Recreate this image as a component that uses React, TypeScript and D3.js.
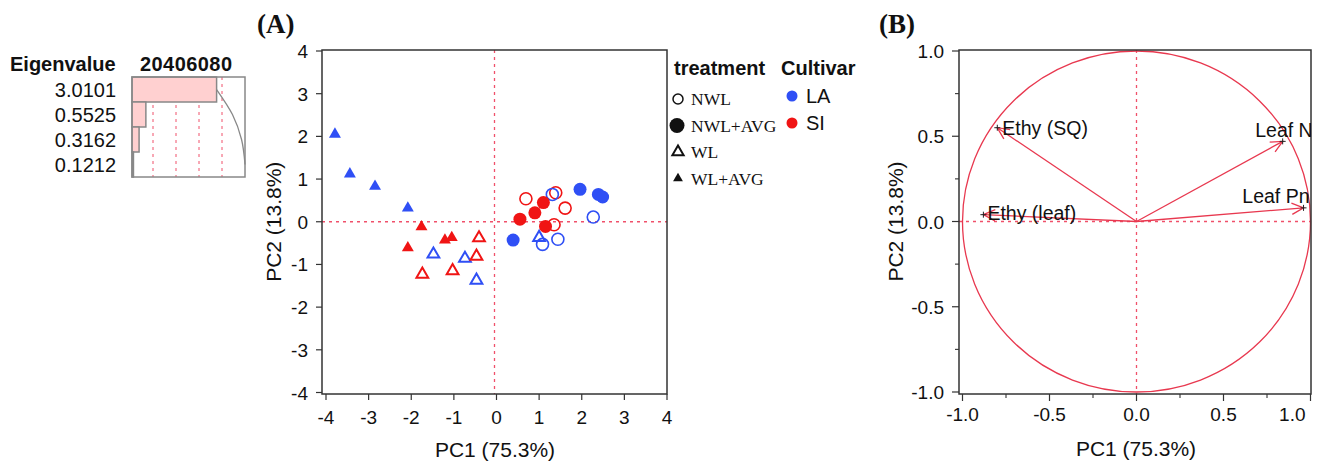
import React from "react";
import * as d3 from "d3";

// ---------- Eigenvalue table ----------
const eigenvalues = [3.0101, 0.5525, 0.3162, 0.1212];
const eigenLabels = ["3.0101", "0.5525", "0.3162", "0.1212"];
const percents = [75.3, 13.8, 7.9, 3.0];
const cumulative = [75.3, 89.1, 97.0, 100];
const percentTicks = [20, 40, 60, 80];

// ---------- Panel A: scores ----------
type Pt = { x: number; y: number };
const nwlLA: Pt[] = [{ x: 1.31, y: 0.64 }, { x: 2.27, y: 0.11 }, { x: 1.08, y: -0.53 }, { x: 1.44, y: -0.41 }];
const nwlSI: Pt[] = [{ x: 0.69, y: 0.54 }, { x: 1.39, y: 0.68 }, { x: 1.61, y: 0.32 }, { x: 1.35, y: -0.07 }];
const nwlAvgLA: Pt[] = [{ x: 0.39, y: -0.43 }, { x: 1.96, y: 0.76 }, { x: 2.39, y: 0.64 }, { x: 2.49, y: 0.58 }];
const nwlAvgSI: Pt[] = [{ x: 0.55, y: 0.06 }, { x: 0.9, y: 0.21 }, { x: 1.1, y: 0.45 }, { x: 1.15, y: -0.11 }];
const wlLA: Pt[] = [{ x: -1.48, y: -0.76 }, { x: -0.74, y: -0.86 }, { x: -0.47, y: -1.37 }, { x: 1.0, y: -0.37 }];
const wlSI: Pt[] = [{ x: -0.41, y: -0.38 }, { x: -0.47, y: -0.81 }, { x: -1.03, y: -1.15 }, { x: -1.74, y: -1.23 }];
const wlAvgLA: Pt[] = [{ x: -3.79, y: 2.05 }, { x: -3.44, y: 1.12 }, { x: -2.85, y: 0.83 }, { x: -2.08, y: 0.32 }];
const wlAvgSI: Pt[] = [{ x: -1.76, y: -0.12 }, { x: -2.08, y: -0.61 }, { x: -1.21, y: -0.43 }, { x: -1.05, y: -0.37 }];

const ticksA = [-4, -3, -2, -1, 0, 1, 2, 3, 4];
const treatmentLabels = ["NWL", "NWL+AVG", "WL", "WL+AVG"];
const cultivarLabels = ["LA", "SI"];

// ---------- Panel B: loadings ----------
const loadingNames = ["Ethy (SQ)", "Leaf N", "Leaf Pn", "Ethy (leaf)"];
const loadingX = [-0.8, 0.84, 0.96, -0.88];
const loadingY = [0.55, 0.47, 0.08, 0.04];
const ticksB = [-1.0, -0.5, 0.0, 0.5, 1.0];
const minorTicksB = [-0.75, -0.25, 0.25, 0.75];

const BLUE = "#2f4ff5";
const RED = "#f01414";
const DOT = "#f0506a";
const LINE = "#e8384f";
const FRAME = "#333";
const SANS = "'Liberation Sans', Arial, sans-serif";
const SERIF = "'Liberation Serif', 'Times New Roman', serif";

export default function App() {
  const eX = d3.scaleLinear().domain([0, 100]).range([130, 245]);
  const eY = d3.scaleBand<number>().domain([0, 1, 2, 3]).range([77, 177]).padding(0);
  const cumLine = d3
    .line<number>()
    .x((d) => eX(d))
    .y((_, i) => eY(i)! + eY.bandwidth() / 2)
    .curve(d3.curveMonotoneY);

  const ax = d3.scaleLinear().domain([-4, 4]).range([326, 667]);
  const ay = d3.scaleLinear().domain([-4, 4]).range([392.5, 51]);
  const frameA = { l: 322, r: 667, t: 50, b: 394 };

  const bx = d3.scaleLinear().domain([-1, 1]).range([962.5, 1310.5]);
  const by = d3.scaleLinear().domain([-1, 1]).range([392, 51]);
  const frameB = { l: 959, r: 1311, t: 50, b: 394 };

  const triFilled = d3.symbol().type(d3.symbolTriangle).size(62)()!;
  const triOpen = d3.symbol().type(d3.symbolTriangle).size(60)()!;

  const groups: { pts: Pt[]; color: string; kind: string }[] = [
    { pts: wlAvgLA, color: BLUE, kind: "triF" },
    { pts: wlAvgSI, color: RED, kind: "triF" },
    { pts: wlLA, color: BLUE, kind: "triO" },
    { pts: wlSI, color: RED, kind: "triO" },
    { pts: nwlSI, color: RED, kind: "circO" },
    { pts: nwlLA, color: BLUE, kind: "circO" },
    { pts: nwlAvgSI, color: RED, kind: "circF" },
    { pts: nwlAvgLA, color: BLUE, kind: "circF" },
  ];

  const labelOffsets = [
    { dx: 5, dy: 7, anchor: "start" },
    { dx: 30, dy: -4, anchor: "end" },
    { dx: 6, dy: -5, anchor: "end" },
    { dx: 4, dy: 5, anchor: "start" },
  ];

  const arrowHead = (x0: number, y0: number, x1: number, y1: number) => {
    const ang = Math.atan2(y1 - y0, x1 - x0);
    const len = 13;
    const spread = Math.PI / 7;
    const a1 = ang + Math.PI - spread;
    const a2 = ang + Math.PI + spread;
    return `M${x1 + len * Math.cos(a1)},${y1 + len * Math.sin(a1)}L${x1},${y1}L${x1 + len * Math.cos(a2)},${y1 + len * Math.sin(a2)}`;
  };

  const fmtB = (t: number) => d3.format(".1f")(t).replace("−", "-");

  return (
    <svg
      width={1321}
      height={463}
      style={{ position: "absolute", left: 0, top: 0, background: "#fff" }}
      fontFamily={SANS}
    >
      <defs>
        <clipPath id="clipB">
          <rect x={frameB.l} y={frameB.t} width={frameB.r - frameB.l} height={frameB.b - frameB.t} />
        </clipPath>
      </defs>

      {/* ---------- Eigenvalue table ---------- */}
      <g>
        <text x={10} y={71} fontSize={20} fontWeight="bold" fill="#111">Eigenvalue</text>
        <text x={140} y={71} fontSize={20} fontWeight="bold" fill="#111" textLength={92}>{percentTicks.join("")}</text>
        {eigenvalues.map((v, i) => (
          <text key={i} x={116} y={eY(i)! + eY.bandwidth() / 2 + 7} fontSize={20} textAnchor="end" fill="#111">
            {eigenLabels[i]}
          </text>
        ))}
        {percentTicks.map((p) => (
          <line key={p} x1={eX(p)} x2={eX(p)} y1={77} y2={177} stroke={DOT} strokeWidth={1} strokeDasharray="3,4" />
        ))}
        {percents.map((p, i) => (
          <rect
            key={i}
            x={eX(0) + 2}
            y={eY(i)!}
            width={Math.max(eX(p) - eX(0) - 2, 1)}
            height={eY.bandwidth()}
            fill="#ffd0d0"
            stroke="#888"
            strokeWidth={1.5}
          />
        ))}
        <path d={cumLine(cumulative)!} fill="none" stroke="#888" strokeWidth={1.3} />
        <rect x={132} y={77} width={113} height={100} fill="none" stroke="#888" strokeWidth={1.5} />
      </g>

      {/* ---------- Panel A ---------- */}
      <text x={257} y={33} fontFamily={SERIF} fontWeight="bold" fontSize={27} fill="#111">(A)</text>
      <line x1={frameA.l} x2={frameA.r} y1={ay(0)} y2={ay(0)} stroke={DOT} strokeWidth={1.3} strokeDasharray="3,4" />
      <line x1={ax(0) - 2} x2={ax(0) - 2} y1={frameA.t} y2={frameA.b} stroke={DOT} strokeWidth={1.3} strokeDasharray="3,4" />
      <rect x={frameA.l} y={frameA.t} width={frameA.r - frameA.l} height={frameA.b - frameA.t} fill="none" stroke={FRAME} strokeWidth={1.5} />
      {ticksA.map((t) => (
        <g key={"ay" + t}>
          <line x1={frameA.l - 6} x2={frameA.l} y1={ay(t)} y2={ay(t)} stroke={FRAME} strokeWidth={1.2} />
          <text x={308} y={ay(t) + 7} fontSize={19} textAnchor="end" fill="#111">{t}</text>
        </g>
      ))}
      {ticksA.map((t) => (
        <g key={"ax" + t}>
          <line x1={ax(t)} x2={ax(t)} y1={frameA.b} y2={frameA.b + 6} stroke={FRAME} strokeWidth={1.2} />
          <text x={ax(t)} y={424} fontSize={19} textAnchor="middle" fill="#111">{t}</text>
        </g>
      ))}
      <text x={495} y={457} fontSize={21} textAnchor="middle" fill="#111">PC1 (75.3%)</text>
      <text transform={`translate(281,${ay(0)}) rotate(-90)`} fontSize={21} textAnchor="middle" fill="#111">PC2 (13.8%)</text>

      {groups.map((g, gi) => (
        <g key={gi}>
          {g.pts.map((p, i) => {
            const cx = ax(p.x);
            const cy = ay(p.y);
            if (g.kind === "circF") return <circle key={i} cx={cx} cy={cy} r={6.5} fill={g.color} />;
            if (g.kind === "circO")
              return <circle key={i} cx={cx} cy={cy} r={6} fill="none" stroke={g.color} strokeWidth={1.6} />;
            if (g.kind === "triF") return <path key={i} d={triFilled} transform={`translate(${cx},${cy})`} fill={g.color} />;
            return <path key={i} d={triOpen} transform={`translate(${cx},${cy})`} fill="none" stroke={g.color} strokeWidth={2} />;
          })}
        </g>
      ))}

      {/* Legend */}
      <text x={674} y={75} fontSize={20} fontWeight="bold" fill="#111">treatment</text>
      <text x={781} y={75} fontSize={20} fontWeight="bold" fill="#111">Cultivar</text>
      {treatmentLabels.map((lab, i) => {
        const y = 99 + i * 26.5;
        let marker;
        if (i === 0) marker = <circle cx={678} cy={y} r={5} fill="none" stroke="#111" strokeWidth={1.5} />;
        else if (i === 1) marker = <circle cx={677} cy={y} r={7.5} fill="#111" />;
        else if (i === 2)
          marker = <path d={d3.symbol().type(d3.symbolTriangle).size(55)()!} transform={`translate(678,${y})`} fill="none" stroke="#111" strokeWidth={2} />;
        else marker = <path d={d3.symbol().type(d3.symbolTriangle).size(42)()!} transform={`translate(678,${y})`} fill="#111" />;
        return (
          <g key={lab}>
            {marker}
            <text x={691} y={y + 6} fontFamily={SERIF} fontSize={17.5} fill="#111">{lab}</text>
          </g>
        );
      })}
      {cultivarLabels.map((lab, i) => {
        const y = 96 + i * 27;
        return (
          <g key={lab}>
            <circle cx={792} cy={y} r={5.5} fill={i === 0 ? BLUE : RED} />
            <text x={806} y={y + 7} fontSize={20} fill="#111">{lab}</text>
          </g>
        );
      })}

      {/* ---------- Panel B ---------- */}
      <text x={879} y={33} fontFamily={SERIF} fontWeight="bold" fontSize={27} fill="#111">(B)</text>
      <line x1={frameB.l} x2={frameB.r} y1={by(0)} y2={by(0)} stroke={DOT} strokeWidth={1.3} strokeDasharray="3,4" />
      <line x1={bx(0)} x2={bx(0)} y1={frameB.t} y2={frameB.b} stroke={DOT} strokeWidth={1.3} strokeDasharray="3,4" />
      <ellipse cx={bx(0)} cy={by(0)} rx={bx(1) - bx(0)} ry={by(0) - by(1)} fill="none" stroke={LINE} strokeWidth={1.3} />
      <rect x={frameB.l} y={frameB.t} width={frameB.r - frameB.l} height={frameB.b - frameB.t} fill="none" stroke={FRAME} strokeWidth={1.5} />
      {ticksB.map((t, i) => {
        const last = i === ticksB.length - 1;
        return (
          <g key={"by" + t}>
            <line x1={frameB.l - 7} x2={frameB.l} y1={by(t)} y2={by(t)} stroke={FRAME} strokeWidth={1.2} />
            <text x={944} y={by(t) + 7} fontSize={19} textAnchor="end" fill="#111">{fmtB(t)}</text>
            <line x1={bx(t)} x2={bx(t)} y1={frameB.b} y2={frameB.b + 7} stroke={FRAME} strokeWidth={1.2} />
            <text
              x={last ? bx(t) - 5 : bx(t)}
              y={421}
              fontSize={19}
              textAnchor={last ? "end" : "middle"}
              fill="#111"
            >
              {fmtB(t)}
            </text>
          </g>
        );
      })}
      {minorTicksB.map((t) => (
        <g key={"mb" + t}>
          <line x1={frameB.l - 4} x2={frameB.l} y1={by(t)} y2={by(t)} stroke={FRAME} strokeWidth={1.1} />
          <line x1={bx(t)} x2={bx(t)} y1={frameB.b} y2={frameB.b + 4} stroke={FRAME} strokeWidth={1.1} />
        </g>
      ))}
      <text x={1136} y={456} fontSize={21} textAnchor="middle" fill="#111">PC1 (75.3%)</text>
      <text transform={`translate(903,${by(0)}) rotate(-90)`} fontSize={21} textAnchor="middle" fill="#111">PC2 (13.8%)</text>

      <g clipPath="url(#clipB)">
        {loadingNames.map((name, i) => {
          const x0 = bx(0);
          const y0 = by(0);
          const x1 = bx(loadingX[i]);
          const y1 = by(loadingY[i]);
          const o = labelOffsets[i];
          return (
            <g key={name}>
              <line x1={x0} y1={y0} x2={x1} y2={y1} stroke={LINE} strokeWidth={1.3} />
              <path d={arrowHead(x0, y0, x1, y1)} fill="none" stroke={LINE} strokeWidth={1.3} />
              <path d={`M${x1 - 3},${y1}H${x1 + 3}M${x1},${y1 - 3}V${y1 + 3}`} stroke="#222" strokeWidth={1} />
              <text x={x1 + o.dx} y={y1 + o.dy} fontSize={19.5} textAnchor={o.anchor} fill="#111">{name}</text>
            </g>
          );
        })}
      </g>
    </svg>
  );
}
